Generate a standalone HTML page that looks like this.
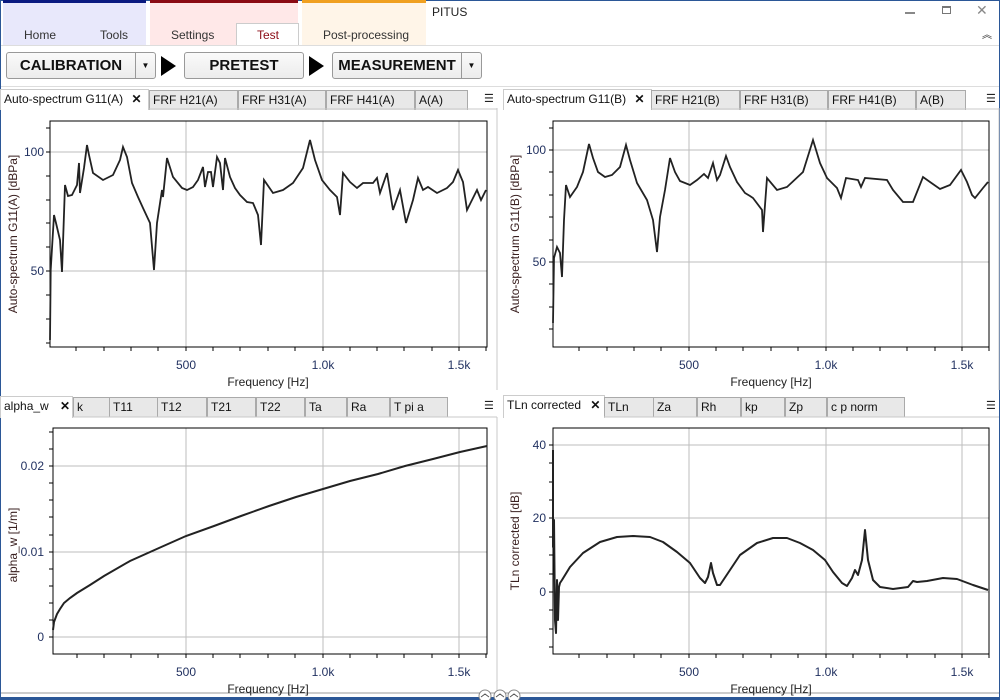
<!DOCTYPE html>
<html><head><meta charset="utf-8"><style>
*{margin:0;padding:0;box-sizing:border-box}
body{width:1000px;height:700px;overflow:hidden;background:#fff;font-family:"Liberation Sans",sans-serif;font-size:12px;color:#222;position:relative}
.a{position:absolute}
.tab{position:absolute;height:20px;background:#e8e8e8;border:1px solid #aaa;border-bottom:none;font-size:12px;line-height:19px;padding-left:3px;color:#111}
.act{background:#fff;border-color:#ccc}
.btn{position:absolute;top:52px;height:27px;border:1px solid #999;border-radius:3px;background:linear-gradient(#fafafa,#ececec);font-weight:bold;font-size:15px;line-height:25px;text-align:center;color:#111}
.dd{position:absolute;top:0;right:0;width:20px;height:25px;border-left:1px solid #999;font-size:8px;line-height:25px;text-align:center}
.tri{position:absolute;top:56px;width:0;height:0;border-top:10px solid transparent;border-bottom:10px solid transparent;border-left:15px solid #000}
</style></head><body>
<div class="a" style="left:0;top:0;width:1000px;height:700px;border:1px solid #2b5797;border-bottom:3px solid #2b5797"></div>
<div class="a" style="left:3px;top:0;width:143px;height:45px;background:#e8e8fb;border-top:3px solid #0a1a80"></div>
<div class="a" style="left:150px;top:0;width:148px;height:45px;background:#ffe8e8;border-top:3px solid #8b0a14"></div>
<div class="a" style="left:302px;top:0;width:124px;height:45px;background:#fff5e8;border-top:3px solid #f0a020"></div>
<div class="a" style="left:236px;top:23px;width:63px;height:23px;background:#fff;border:1px solid #ccc;border-bottom:none"></div>
<div class="a" style="left:24px;top:28px;color:#333">Home</div>
<div class="a" style="left:100px;top:28px;color:#333">Tools</div>
<div class="a" style="left:171px;top:28px;color:#333">Settings</div>
<div class="a" style="left:257px;top:28px;color:#8b0a14">Test</div>
<div class="a" style="left:323px;top:28px;color:#333">Post-processing</div>
<div class="a" style="left:432px;top:5px;color:#222">PITUS</div>
<div class="a" style="left:905px;top:12px;width:10px;height:2px;background:#888"></div>
<div class="a" style="left:942px;top:6px;width:9px;height:8px;border:1px solid #777;border-top:2px solid #777"></div>
<div class="a" style="left:976px;top:2px;color:#888;font-size:14px">✕</div>
<div class="a" style="left:982px;top:26px;color:#333;font-size:10px">︽</div>
<div class="a" style="left:1px;top:45px;width:998px;height:1px;background:#ddd"></div>
<div class="btn" style="left:6px;width:150px;padding-right:20px">CALIBRATION<div class="dd">▼</div></div>
<div class="tri" style="left:161px"></div>
<div class="btn" style="left:184px;width:120px">PRETEST</div>
<div class="tri" style="left:309px"></div>
<div class="btn" style="left:332px;width:150px;padding-right:20px">MEASUREMENT<div class="dd">▼</div></div>
<div class="a" style="left:1px;top:86px;width:998px;height:1px;background:#ddd"></div>
<div class="tab act" style="left:0;top:89px;width:149px;height:21px">Auto-spectrum G11(A) <b style="margin-left:5px">✕</b></div>
<div class="tab" style="left:149px;top:90px;width:89px">FRF H21(A)</div>
<div class="tab" style="left:238px;top:90px;width:88px">FRF H31(A)</div>
<div class="tab" style="left:326px;top:90px;width:89px">FRF H41(A)</div>
<div class="tab" style="left:415px;top:90px;width:53px">A(A)</div>
<div class="a" style="left:484px;top:92px;font-size:11px">☰</div>
<div class="tab act" style="left:503px;top:89px;width:149px;height:21px">Auto-spectrum G11(B) <b style="margin-left:5px">✕</b></div>
<div class="tab" style="left:651px;top:90px;width:89px">FRF H21(B)</div>
<div class="tab" style="left:740px;top:90px;width:88px">FRF H31(B)</div>
<div class="tab" style="left:828px;top:90px;width:88px">FRF H41(B)</div>
<div class="tab" style="left:916px;top:90px;width:50px">A(B)</div>
<div class="a" style="left:986px;top:92px;font-size:11px">☰</div>
<div class="tab act" style="left:0;top:396px;width:73px;height:22px">alpha_w <b style="margin-left:8px">✕</b></div>
<div class="tab" style="left:73px;top:397px;width:37px">k</div>
<div class="tab" style="left:109px;top:397px;width:49px">T11</div>
<div class="tab" style="left:157px;top:397px;width:50px">T12</div>
<div class="tab" style="left:207px;top:397px;width:49px">T21</div>
<div class="tab" style="left:256px;top:397px;width:49px">T22</div>
<div class="tab" style="left:305px;top:397px;width:42px">Ta</div>
<div class="tab" style="left:347px;top:397px;width:43px">Ra</div>
<div class="tab" style="left:390px;top:397px;width:58px">T pi a</div>
<div class="a" style="left:484px;top:399px;font-size:11px">☰</div>
<div class="tab act" style="left:503px;top:395px;width:102px;height:23px">TLn corrected <b style="margin-left:6px">✕</b></div>
<div class="tab" style="left:604px;top:397px;width:50px">TLn</div>
<div class="tab" style="left:653px;top:397px;width:44px">Za</div>
<div class="tab" style="left:697px;top:397px;width:44px">Rh</div>
<div class="tab" style="left:741px;top:397px;width:44px">kp</div>
<div class="tab" style="left:785px;top:397px;width:42px">Zp</div>
<div class="tab" style="left:827px;top:397px;width:78px">c p norm</div>
<div class="a" style="left:986px;top:399px;font-size:11px">☰</div>

<svg class="a" style="left:0;top:0" width="1000" height="700" xmlns="http://www.w3.org/2000/svg" font-family="Liberation Sans, sans-serif" font-size="12">
<g stroke="#c8c8c8" fill="none">
<line x1="497" y1="108" x2="497" y2="390"/><line x1="148" y1="109" x2="497" y2="109"/>
<line x1="497" y1="417" x2="497" y2="693"/><line x1="72" y1="417" x2="497" y2="417"/>
<line x1="999" y1="108" x2="999" y2="390"/><line x1="651" y1="109" x2="999" y2="109"/>
<line x1="604" y1="417" x2="999" y2="417"/>
<line x1="1" y1="693" x2="999" y2="693" stroke="#999"/>
</g>
<g stroke="#888" fill="#fff"><circle cx="485" cy="696" r="6"/><circle cx="500" cy="696" r="6"/><circle cx="514" cy="696" r="6"/></g>
<g stroke="#555" fill="none" stroke-width="1"><path d="M481,697l4,-3l4,3M496,697l4,-3l4,3M510,697l4,-3l4,3"/></g>

<g stroke="#bdbdbd"><line x1="186" y1="121" x2="186" y2="347"/><line x1="323" y1="121" x2="323" y2="347"/><line x1="459" y1="121" x2="459" y2="347"/><line x1="50" y1="152" x2="487" y2="152"/><line x1="50" y1="271" x2="487" y2="271"/></g>
<rect x="50" y="121" width="437" height="226" fill="none" stroke="#000"/>
<g stroke="#000"><path d="M46,128h4M46,152h4M46,176h4M46,200h4M46,223h4M46,247h4M46,271h4M46,295h4M46,319h4M46,343h4M76,347v4M104,347v4M131,347v4M158,347v4M186,347v4M213,347v4M240,347v4M268,347v4M295,347v4M323,347v4M350,347v4M377,347v4M404,347v4M432,347v4M459,347v4M486,347v4"/></g>
<g fill="#1f2f5f" text-anchor="end"><text x="44" y="156">100</text><text x="44" y="275">50</text></g>
<g fill="#1f2f5f" text-anchor="middle"><text x="186" y="369">500</text><text x="323" y="369">1.0k</text><text x="459" y="369">1.5k</text></g>
<text x="268" y="386" text-anchor="middle" fill="#222">Frequency [Hz]</text>
<text transform="translate(17,234) rotate(-90)" text-anchor="middle" fill="#3a2020">Auto-spectrum G11(A) [dBPa]</text>
<polyline fill="none" stroke="#222" stroke-width="1.8" points="50,340 50.7,270 54,215 56,223 60,240 62,272 65,185 68,196 72,195 77,185 79,163 80,193 84,168 87,145 89,155 93,173 103,180 113,175 120,160 123,147 127,157 132,183 138,197 143,208 150,223 154,270 157,223 162,190 163,197 167,158 173,177 182,188 187,190 193,187 198,180 203,167 205,187 208,172 211,172 213,187 217,157 220,163 223,190 225,158 230,177 235,188 240,195 247,202 253,203 258,215 261,245 264,180 273,193 283,190 293,183 303,168 310,140 315,160 322,180 330,190 337,197 340,215 343,173 350,182 357,188 363,183 373,183 377,178 380,193 387,173 393,210 400,190 406,223 413,200 418,178 423,190 428,187 437,193 447,188 453,182 458,170 463,182 467,210 472,200 477,190 481,200 486,190"/>

<g stroke="#bdbdbd"><line x1="689" y1="121" x2="689" y2="347"/><line x1="826" y1="121" x2="826" y2="347"/><line x1="962" y1="121" x2="962" y2="347"/><line x1="553" y1="150" x2="989" y2="150"/><line x1="553" y1="262" x2="989" y2="262"/></g>
<rect x="553" y="121" width="436" height="226" fill="none" stroke="#000"/>
<g stroke="#000"><path d="M549,128h4M549,150h4M549,172h4M549,195h4M549,217h4M549,240h4M549,262h4M549,284h4M549,307h4M549,329h4M579,347v4M607,347v4M634,347v4M661,347v4M689,347v4M716,347v4M743,347v4M771,347v4M798,347v4M826,347v4M853,347v4M880,347v4M907,347v4M935,347v4M962,347v4M989,347v4"/></g>
<g fill="#1f2f5f" text-anchor="end"><text x="546" y="154">100</text><text x="546" y="266">50</text></g>
<g fill="#1f2f5f" text-anchor="middle"><text x="689" y="369">500</text><text x="826" y="369">1.0k</text><text x="962" y="369">1.5k</text></g>
<text x="771" y="386" text-anchor="middle" fill="#222">Frequency [Hz]</text>
<text transform="translate(519,234) rotate(-90)" text-anchor="middle" fill="#3a2020">Auto-spectrum G11(B) [dBPa]</text>
<polyline fill="none" stroke="#222" stroke-width="1.8" points="553,323 554,258 557,247 560,253 562,277 564,220 566,185 570,197 577,187 583,172 589,144 593,158 598,172 605,177 612,175 620,167 626,145 630,160 637,183 647,200 653,220 657,252 660,217 665,190 670,158 675,172 680,181 690,185 697,180 704,174 708,178 713,163 717,180 720,175 726,156 730,167 737,182 745,193 750,196 753,198 762,210 763,232 767,178 777,190 787,187 803,172 813,140 820,163 827,178 837,188 841,198 846,178 858,180 861,187 865,178 887,180 893,190 903,202 913,202 923,177 930,182 940,189 950,185 961,170 967,182 972,195 975,198 983,188 988,182"/>

<g stroke="#bdbdbd"><line x1="186" y1="428" x2="186" y2="654"/><line x1="323" y1="428" x2="323" y2="654"/><line x1="459" y1="428" x2="459" y2="654"/><line x1="53" y1="466" x2="487" y2="466"/><line x1="53" y1="552" x2="487" y2="552"/><line x1="53" y1="637" x2="487" y2="637"/></g>
<rect x="53" y="428" width="434" height="226" fill="none" stroke="#000"/>
<g stroke="#000"><path d="M49,432h4M49,449h4M49,466h4M49,483h4M49,500h4M49,517h4M49,535h4M49,552h4M49,569h4M49,586h4M49,603h4M49,620h4M49,637h4M77,654v4M104,654v4M131,654v4M158,654v4M186,654v4M213,654v4M240,654v4M268,654v4M295,654v4M323,654v4M350,654v4M377,654v4M404,654v4M432,654v4M459,654v4M486,654v4"/></g>
<g fill="#1f2f5f" text-anchor="end"><text x="44" y="470">0.02</text><text x="44" y="556">0.01</text><text x="44" y="641">0</text></g>
<g fill="#1f2f5f" text-anchor="middle"><text x="186" y="676">500</text><text x="323" y="676">1.0k</text><text x="459" y="676">1.5k</text></g>
<text x="268" y="693" text-anchor="middle" fill="#222">Frequency [Hz]</text>
<text transform="translate(17,545) rotate(-90)" text-anchor="middle" fill="#3a2020">alpha_w [1/m]</text>
<polyline fill="none" stroke="#222" stroke-width="2" points="53,630 54,622 57,614 60,609 64,603 70,598 77,593 90,585 104,576 130,561 159,548 186,536 214,526 241,516 269,506 296,497 323,489 350,481 378,474 405,466 433,459 460,452 487,446"/>

<g stroke="#bdbdbd"><line x1="689" y1="428" x2="689" y2="654"/><line x1="826" y1="428" x2="826" y2="654"/><line x1="962" y1="428" x2="962" y2="654"/><line x1="553" y1="445" x2="989" y2="445"/><line x1="553" y1="518" x2="989" y2="518"/><line x1="553" y1="592" x2="989" y2="592"/></g>
<rect x="553" y="428" width="436" height="226" fill="none" stroke="#000"/>
<g stroke="#000"><path d="M549,445h4M549,463h4M549,482h4M549,500h4M549,518h4M549,537h4M549,555h4M549,574h4M549,592h4M549,610h4M549,629h4M549,647h4M579,654v4M607,654v4M634,654v4M661,654v4M689,654v4M716,654v4M743,654v4M771,654v4M798,654v4M826,654v4M853,654v4M880,654v4M907,654v4M935,654v4M962,654v4M989,654v4"/></g>
<g fill="#1f2f5f" text-anchor="end"><text x="546" y="449">40</text><text x="546" y="522">20</text><text x="546" y="596">0</text></g>
<g fill="#1f2f5f" text-anchor="middle"><text x="689" y="676">500</text><text x="826" y="676">1.0k</text><text x="962" y="676">1.5k</text></g>
<text x="771" y="693" text-anchor="middle" fill="#222">Frequency [Hz]</text>
<text transform="translate(519,541) rotate(-90)" text-anchor="middle" fill="#3a2020">TLn corrected [dB]</text>
<polyline fill="none" stroke="#222" stroke-width="2" stroke-linejoin="round" points="553,450 553,547 554,520 555,620 556,633 557,580 558,620 559,587 560,583 562,580 570,567 583,553 600,542 617,537 633,536 650,537 663,542 677,552 690,563 700,578 705,583 708,577 711,563 713,573 717,585 720,585 730,570 740,555 757,543 773,538 787,538 800,543 813,550 825,560 833,572 842,583 847,586 852,578 855,570 858,575 862,560 865,530 868,560 873,580 880,587 893,589 908,587 913,581 917,582 927,581 943,578 957,579 973,585 988,590"/>
</svg>
</body></html>
